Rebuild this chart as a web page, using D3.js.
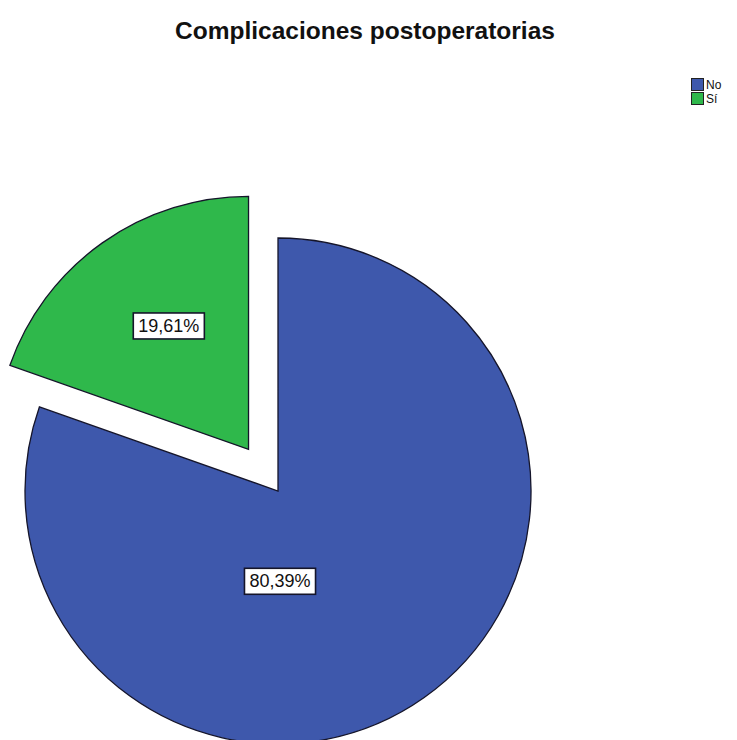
<!DOCTYPE html>
<html><head><meta charset="utf-8">
<script src="https://cdn.jsdelivr.net/npm/d3@7"></script>
<style>body{margin:0;background:#fff}</style>
</head><body>
<svg id="c" width="737" height="740"></svg>
<script>
const title = "Complicaciones postoperatorias";
const categories = ["No", "Sí"];
const values = [80.39, 19.61];
const colors = ["#3E58AC", "#2FB84B"];
const exploded = [0, 1];

const svg = d3.select("#c");
const W = 737, H = 740;
svg.append("rect").attr("width", W).attr("height", H).attr("fill", "#fff");

svg.append("text").attr("x", 365).attr("y", 39).attr("text-anchor", "middle")
  .attr("font-family", "Liberation Sans, Arial, sans-serif").attr("font-weight", "bold")
  .attr("font-size", 24.5).attr("fill", "#111").text(title);

const cx = 278, cy = 491, r = 253, explode = 51;
const pie = d3.pie().value(d => d).sort(null);
const arcs = pie(values);
const arc = d3.arc().innerRadius(0).outerRadius(r);
const fmt = v => d3.format(".2f")(v).replace(".", ",") + "%";

const g = svg.append("g").attr("transform", `translate(${cx},${cy})`);
arcs.forEach((a, i) => {
  const mid = (a.startAngle + a.endAngle) / 2;
  const off = exploded[i] ? explode : 0;
  const dx = Math.sin(mid) * off, dy = -Math.cos(mid) * off;
  const sg = g.append("g").attr("transform", `translate(${dx},${dy})`);
  sg.append("path").attr("d", arc(a)).attr("fill", colors[i])
    .attr("stroke", "#15152a").attr("stroke-width", 1.3);
});

// labels
const labelPos = arcs.map((a, i) => {
  const mid = (a.startAngle + a.endAngle) / 2;
  const off = exploded[i] ? explode : 0;
  const dx = Math.sin(mid) * off, dy = -Math.cos(mid) * off;
  if (i === 0) return [dx + 2, dy + 0.355 * r];
  const lr = 0.6 * r;
  return [dx + Math.sin(mid) * lr + 8, dy - Math.cos(mid) * lr];
});
arcs.forEach((a, i) => {
  const [x, y] = labelPos[i];
  const lg = g.append("g").attr("transform", `translate(${x},${y})`);
  const t = lg.append("text").attr("text-anchor", "middle").attr("dy", "0.36em")
    .attr("font-family", "Liberation Sans, Arial, sans-serif").attr("font-size", 18)
    .attr("fill", "#111").text(fmt(values[i]));
  const bb = t.node().getBBox();
  lg.insert("rect", "text").attr("x", bb.x - 5).attr("y", bb.y - 3)
    .attr("width", bb.width + 10).attr("height", bb.height + 6)
    .attr("fill", "#fff").attr("stroke", "#15152a").attr("stroke-width", 1.6);
});

// legend
const leg = svg.append("g").attr("transform", "translate(691,78)");
categories.forEach((c, i) => {
  const row = leg.append("g").attr("transform", `translate(0,${i * 14})`);
  row.append("rect").attr("x", 0.5).attr("y", 0.5).attr("width", 12).attr("height", 12)
    .attr("fill", colors[i]).attr("stroke", "#222");
  row.append("text").attr("x", 15).attr("y", 11)
    .attr("font-family", "Liberation Sans, Arial, sans-serif").attr("font-size", 12)
    .attr("fill", "#111").text(c);
});
</script>
</body></html>
